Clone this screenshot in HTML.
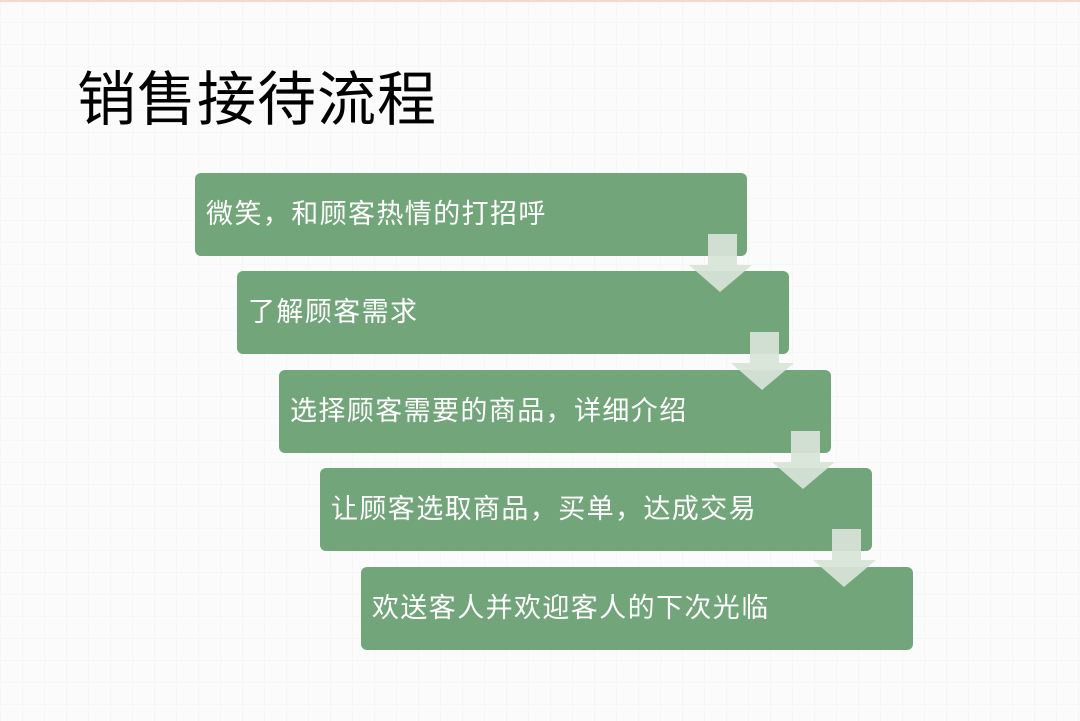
<!DOCTYPE html>
<html><head><meta charset="utf-8"><style>
body{margin:0;width:1080px;height:721px;background:#fbfbfb;position:relative;overflow:hidden;font-family:"Liberation Sans","Noto Sans CJK SC",sans-serif}
.bg{position:absolute;inset:0;background-image:linear-gradient(#f2f2f2 1px,transparent 1px),linear-gradient(90deg,#f2f2f2 1px,transparent 1px);background-size:22px 22px;opacity:.5}
.top{position:absolute;left:0;top:0;width:1080px;height:2px;background:#f3d8d0}
h1{position:absolute;left:77px;top:52px;margin:0;font-size:59px;font-weight:normal;color:#000;letter-spacing:1px}
.b{position:absolute;width:552px;height:83px;background:#72a57a;border-radius:6px;color:#fff;font-size:27px;line-height:83px;padding-left:11px;box-sizing:border-box;letter-spacing:1.4px}
.a{position:absolute;width:64px;height:58px}
</style></head><body>
<div class="bg"></div><div class="top"></div>
<h1>销售接待流程</h1>
<div class="b" style="left:195px;top:173px">微笑，和顾客热情的打招呼</div>
<div class="b" style="left:237px;top:271px">了解顾客需求</div>
<div class="b" style="left:279px;top:370px">选择顾客需要的商品，详细介绍</div>
<div class="b" style="left:320px;top:468px">让顾客选取商品，买单，达成交易</div>
<div class="b" style="left:361px;top:567px">欢送客人并欢迎客人的下次光临</div>
<svg class="a" style="left:689px;top:234px" viewBox="0 0 64 58"><polygon points="19,0 48,0 48,31 63,31 31,58 0,31 19,31" fill="#d8e4d8" opacity=".92"/></svg>
<svg class="a" style="left:731px;top:332px" viewBox="0 0 64 58"><polygon points="19,0 48,0 48,31 63,31 31,58 0,31 19,31" fill="#d8e4d8" opacity=".92"/></svg>
<svg class="a" style="left:772px;top:431px" viewBox="0 0 64 58"><polygon points="19,0 48,0 48,31 63,31 31,58 0,31 19,31" fill="#d8e4d8" opacity=".92"/></svg>
<svg class="a" style="left:813px;top:529px" viewBox="0 0 64 58"><polygon points="19,0 48,0 48,31 63,31 31,58 0,31 19,31" fill="#d8e4d8" opacity=".92"/></svg>
</body></html>
